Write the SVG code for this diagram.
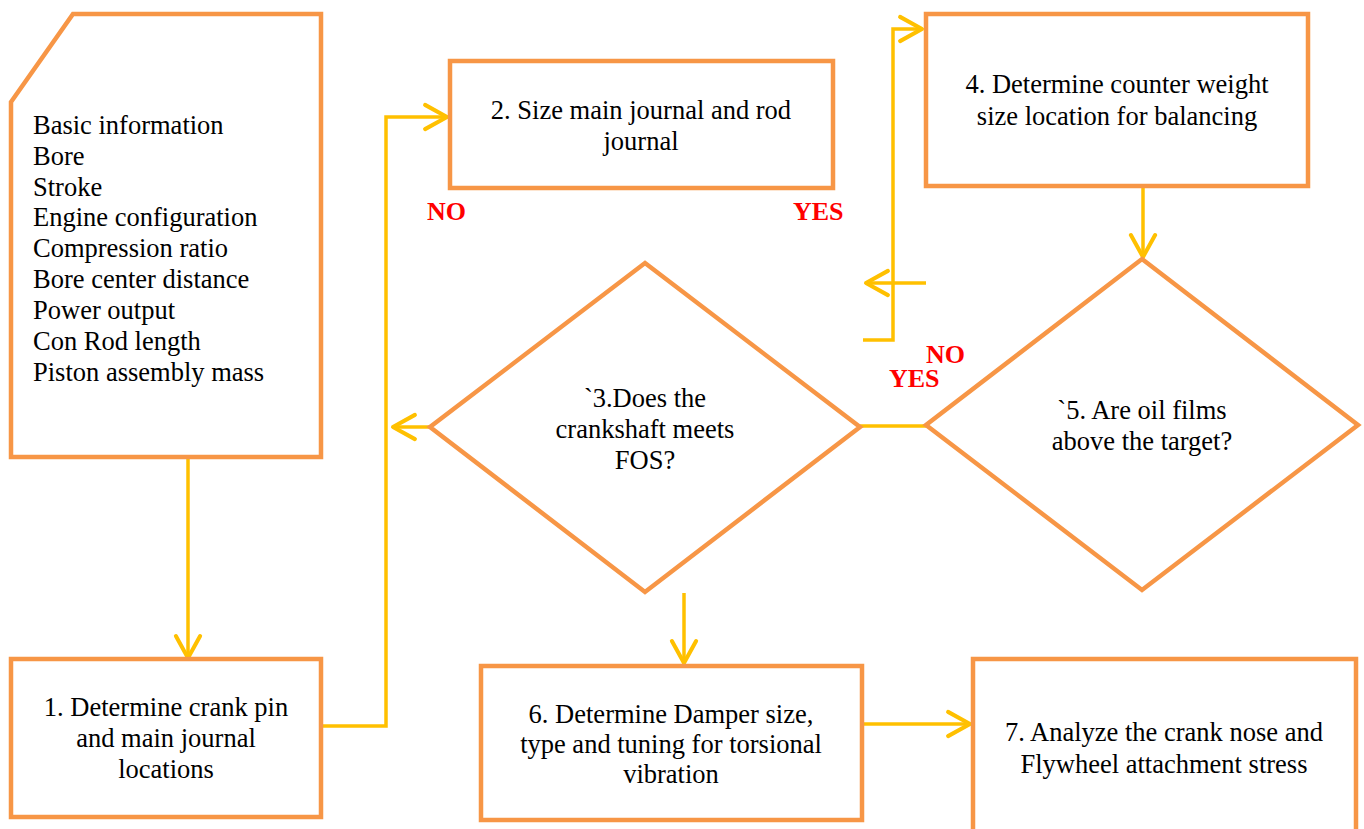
<svg xmlns="http://www.w3.org/2000/svg" width="1364" height="829" viewBox="0 0 1364 829">
<style>
.node{fill:#fff;stroke:#F79646;stroke-width:4.5}
.t{font-family:"Liberation Serif","Times New Roman",serif;font-size:26.5px;fill:#000}
.c{text-anchor:middle}
.lbl{font-family:"Liberation Serif","Times New Roman",serif;font-size:26px;font-weight:bold;fill:#FF0000}
.conn{fill:none;stroke:#FFC000;stroke-width:3.5}
</style>
<defs>
<marker id="arr" markerUnits="userSpaceOnUse" markerWidth="30" markerHeight="30" viewBox="-22 -13 26 26" refX="0" refY="0" orient="auto">
<path d="M-19,-10.5 L0,0 L-19,10.5" fill="none" stroke="#FFC000" stroke-width="3.5" stroke-linecap="round" stroke-linejoin="round"/>
</marker>
</defs>
<rect width="1364" height="829" fill="#fff"/>
<g id="connectors">
<line class="conn" x1="188" y1="459" x2="188" y2="658" marker-end="url(#arr)"/>
<polyline class="conn" points="323,726 386,726 386,117 447,117" marker-end="url(#arr)"/>
<line class="conn" x1="430" y1="427" x2="393" y2="427" marker-end="url(#arr)"/>
<line class="conn" x1="860" y1="426" x2="926" y2="426"/>
<polyline class="conn" points="863,340 893,340 893,29 922,29" marker-end="url(#arr)"/>
<line class="conn" x1="926" y1="283" x2="866" y2="283" marker-end="url(#arr)"/>
<line class="conn" x1="1143" y1="187" x2="1143" y2="257" marker-end="url(#arr)"/>
<line class="conn" x1="684" y1="593" x2="684" y2="663" marker-end="url(#arr)"/>
<line class="conn" x1="864" y1="724" x2="970" y2="724" marker-end="url(#arr)"/>
</g>
<g id="input">
<path class="node" d="M11,102 L73,14 L321,14 L321,457 L11,457 Z"/>
<text class="t" x="33" y="134">Basic information</text>
<text class="t" x="33" y="165">Bore</text>
<text class="t" x="33" y="196">Stroke</text>
<text class="t" x="33" y="226">Engine configuration</text>
<text class="t" x="33" y="257">Compression ratio</text>
<text class="t" x="33" y="288">Bore center distance</text>
<text class="t" x="33" y="319">Power output</text>
<text class="t" x="33" y="350">Con Rod length</text>
<text class="t" x="33" y="381">Piston assembly mass</text>
</g>
<g id="step1">
<rect class="node" x="11" y="659" width="310" height="158"/>
<text class="t c" x="166" y="716">1. Determine crank pin</text>
<text class="t c" x="166" y="747">and main journal</text>
<text class="t c" x="166" y="778">locations</text>
</g>
<g id="step2">
<rect class="node" x="450" y="61" width="383" height="127"/>
<text class="t c" x="641" y="119">2. Size main journal and rod</text>
<text class="t c" x="641" y="150">journal</text>
</g>
<g id="step3">
<polygon class="node" points="645,263 860,427 645,592 430,427"/>
<text class="t c" x="645" y="407">`3.Does the</text>
<text class="t c" x="645" y="438">crankshaft meets</text>
<text class="t c" x="645" y="469">FOS?</text>
</g>
<g id="step4">
<rect class="node" x="926" y="14" width="382" height="172"/>
<text class="t c" x="1117" y="93">4. Determine counter weight</text>
<text class="t c" x="1117" y="125">size location for balancing</text>
</g>
<g id="step5">
<polygon class="node" points="1142,259 1358,425 1142,590 926,425"/>
<text class="t c" x="1142" y="419">`5. Are oil films</text>
<text class="t c" x="1142" y="450">above the target?</text>
</g>
<g id="step6">
<rect class="node" x="481" y="666" width="381" height="154"/>
<text class="t c" x="671" y="723">6. Determine Damper size,</text>
<text class="t c" x="671" y="753">type and tuning for torsional</text>
<text class="t c" x="671" y="783">vibration</text>
</g>
<g id="step7">
<path class="node" d="M973,835 L973,659 L1356,659 L1356,835"/>
<text class="t c" x="1164" y="741">7. Analyze the crank nose and</text>
<text class="t c" x="1164" y="773">Flywheel attachment stress</text>
</g>
<g id="labels">
<text class="lbl" x="427" y="220">NO</text>
<text class="lbl" x="793" y="220">YES</text>
<text class="lbl" x="926" y="363">NO</text>
<text class="lbl" x="889" y="387">YES</text>
</g>
</svg>
